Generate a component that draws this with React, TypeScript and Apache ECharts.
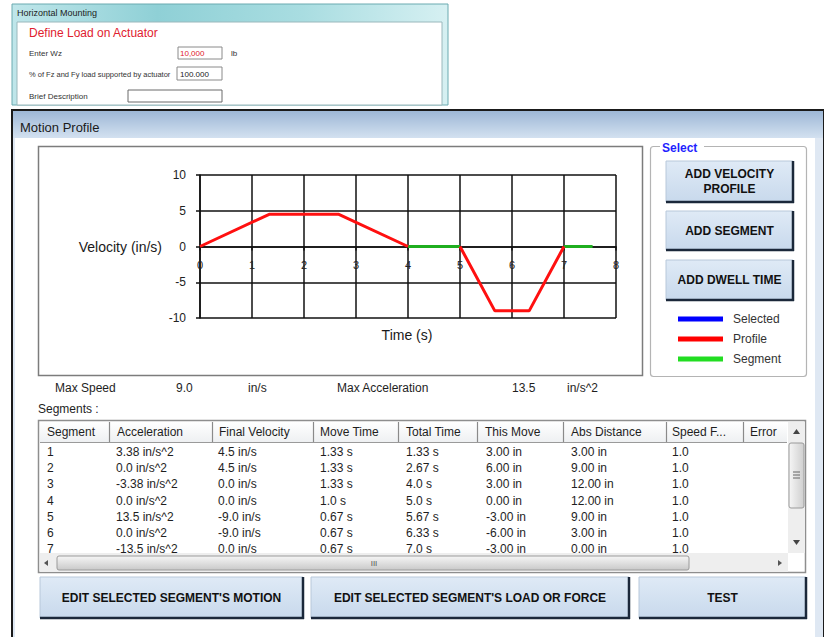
import React, { useEffect, useRef } from "react";
import * as echarts from "echarts";

// ---- chart data ----
const profileTimes = [0, 1.33, 2.67, 4.0, null, 5.0, 5.67, 6.33, 7.0];
const profileVelocity = [0, 4.5, 4.5, 0, null, 0, -9, -9, 0];
const segmentTimes = [4.0, 5.0, null, 7.0, 7.55];
const segmentVelocity = [0, 0, null, 0, 0];
const legendNames = ["Selected", "Profile", "Segment"];

const maxSpeed = "9.0";
const maxAcceleration = "13.5";

// ---- table data ----
const tableHeaders = ["Segment", "Acceleration", "Final Velocity", "Move Time", "Total Time", "This Move", "Abs Distance", "Speed F...", "Error"];
const segNumbers = ["1", "2", "3", "4", "5", "6", "7"];
const accelerations = ["3.38 in/s^2", "0.0 in/s^2", "-3.38 in/s^2", "0.0 in/s^2", "13.5 in/s^2", "0.0 in/s^2", "-13.5 in/s^2"];
const finalVelocities = ["4.5 in/s", "4.5 in/s", "0.0 in/s", "0.0 in/s", "-9.0 in/s", "-9.0 in/s", "0.0 in/s"];
const moveTimes = ["1.33 s", "1.33 s", "1.33 s", "1.0 s", "0.67 s", "0.67 s", "0.67 s"];
const totalTimes = ["1.33 s", "2.67 s", "4.0 s", "5.0 s", "5.67 s", "6.33 s", "7.0 s"];
const thisMoves = ["3.00 in", "6.00 in", "3.00 in", "0.00 in", "-3.00 in", "-6.00 in", "-3.00 in"];
const absDistances = ["3.00 in", "9.00 in", "12.00 in", "12.00 in", "9.00 in", "3.00 in", "0.00 in"];
const speedFactors = ["1.0", "1.0", "1.0", "1.0", "1.0", "1.0", "1.0"];

const UI = "'Liberation Sans', Arial, sans-serif";

function pairs(xs: (number | null)[], ys: (number | null)[]) {
  return xs.map((x, i) => (x === null || ys[i] === null ? ["-", "-"] : [x, ys[i]]));
}

function txt(x: number, y: number, text: string, o: any = {}) {
  const size = o.size ?? 12;
  const weight = o.weight ?? "normal";
  return {
    type: "text",
    x,
    y,
    z: o.z ?? 20,
    silent: true,
    style: {
      text,
      fill: o.color ?? "#1e1e1e",
      font: `${weight} ${size}px ${o.family ?? UI}`,
      align: o.align ?? "left",
      verticalAlign: "middle",
      textAlign: o.align ?? "left",
      textVerticalAlign: "middle",
    },
  };
}
function rect(x: number, y: number, w: number, h: number, style: any, z = 0, r = 0) {
  return { type: "rect", z, silent: true, shape: { x, y, width: w, height: h, r }, style };
}
function line(x1: number, y1: number, x2: number, y2: number, stroke: string, lw = 1, z = 5) {
  return { type: "line", z, silent: true, shape: { x1, y1, x2, y2 }, style: { stroke, lineWidth: lw } };
}
function vgrad(a: string, b: string) {
  return new echarts.graphic.LinearGradient(0, 0, 0, 1, [
    { offset: 0, color: a },
    { offset: 1, color: b },
  ]);
}
function hgrad(stops: string[]) {
  return new echarts.graphic.LinearGradient(
    0, 0, 1, 0,
    stops.map((c, i) => ({ offset: i / (stops.length - 1), color: c }))
  );
}
function button(x: number, y: number, w: number, h: number, lines: string[]) {
  const els: any[] = [
    rect(x, y, w, h, { fill: vgrad("#dfeaf6", "#c8d9ec"), stroke: "#b8c8da", lineWidth: 1 }, 2),
    line(x, y + h, x + w + 1, y + h, "#1b283a", 2.5, 3),
    line(x + w, y, x + w, y + h + 1, "#1b283a", 2.5, 3),
  ];
  const cy = y + h / 2;
  const lh = 15;
  lines.forEach((t, i) => {
    els.push(txt(x + w / 2, cy + (i - (lines.length - 1) / 2) * lh, t, { weight: "bold", size: 12, align: "center", color: "#111" }));
  });
  return els;
}

function buildGraphics() {
  const g: any[] = [];
  // ---- top window (Horizontal Mounting) ----
  g.push(rect(12, 4, 436, 101, { fill: hgrad(["#bfe6ea", "#8fd0d6", "#a9dde1", "#d6f0f2"]), stroke: "#6aaab0", lineWidth: 1 }, -20));
  g.push(rect(17, 22, 425, 83, { fill: "#ffffff", stroke: "#9ab8bc", lineWidth: 1 }, -19));
  g.push(txt(17, 13, "Horizontal Mounting", { size: 9, color: "#222" }));
  g.push(txt(29, 33, "Define Load on Actuator", { size: 12, color: "#e0202e" }));
  g.push(txt(29, 53, "Enter Wz", { size: 8, color: "#333" }));
  g.push(rect(178, 47, 44, 12, { fill: "#fff", stroke: "#8a8a8a", lineWidth: 1 }, -18));
  g.push(txt(180, 53, "10,000", { size: 8, color: "#e0202e" }));
  g.push(txt(231, 53, "lb", { size: 8, color: "#333" }));
  g.push(txt(29, 74, "% of Fz and Fy load supported by actuator", { size: 7.5, color: "#333" }));
  g.push(rect(177, 67, 45, 13, { fill: "#fff", stroke: "#8a8a8a", lineWidth: 1 }, -18));
  g.push(txt(180, 74, "100.000", { size: 8, color: "#222" }));
  g.push(txt(29, 96, "Brief Description", { size: 8, color: "#333" }));
  g.push(rect(128, 90, 94, 12, { fill: "#fff", stroke: "#6a6a6a", lineWidth: 1 }, -18));

  // ---- main window (Motion Profile) ----
  g.push(rect(12, 110, 812, 530, { fill: "#dfe8f3", stroke: "#1a1a1a", lineWidth: 2 }, -20));
  g.push(rect(13, 111, 810, 27, { fill: vgrad("#9db7d6", "#d3e1f0") }, -19));
  g.push(rect(15, 138, 800, 500, { fill: "#ffffff" }, -18));
  g.push(txt(20, 127, "Motion Profile", { size: 13, color: "#1a1a1a" }));

  // chart box
  g.push(rect(38.5, 146.5, 604, 229, { fill: "none", stroke: "#7c7c7c", lineWidth: 1.5 }, -5));
  g.push(txt(162, 247, "Velocity (in/s)", { size: 14, align: "right", color: "#1a1a1a", family: "Arial, 'Liberation Sans', sans-serif" }));
  g.push(txt(407, 335, "Time (s)", { size: 14, align: "center", color: "#1a1a1a", family: "Arial, 'Liberation Sans', sans-serif" }));

  // select group box
  g.push(rect(650.5, 146.5, 156, 230, { fill: "none", stroke: "#b4b4b4", lineWidth: 1.2 }, -5, 3));
  g.push(rect(660, 141, 44, 12, { fill: "#fff" }, -4));
  g.push(txt(662, 148, "Select", { size: 12, weight: "bold", color: "#1f1fff" }));
  g.push(...button(666, 161, 127, 41, ["ADD VELOCITY", "PROFILE"]));
  g.push(...button(666, 211, 127, 39, ["ADD SEGMENT"]));
  g.push(...button(666, 260, 127, 40, ["ADD DWELL TIME"]));

  // summary
  g.push(txt(55, 388, "Max Speed", { size: 12 }));
  g.push(txt(176, 388, maxSpeed, { size: 12 }));
  g.push(txt(248, 388, "in/s", { size: 12 }));
  g.push(txt(337, 388, "Max Acceleration", { size: 12 }));
  g.push(txt(512, 388, maxAcceleration, { size: 12 }));
  g.push(txt(567, 388, "in/s^2", { size: 12 }));
  g.push(txt(38, 409, "Segments :", { size: 12 }));

  // table
  g.push(rect(38.5, 420.5, 767, 152, { fill: "#fff", stroke: "#8e8e8e", lineWidth: 1.5 }, -5));
  g.push(rect(40, 422, 747, 20, { fill: vgrad("#ffffff", "#eef0f2") }, -4));
  g.push(line(40, 442.5, 787, 442.5, "#9a9a9a", 1, 1));
  const seps = [109, 212, 313, 398, 477, 563, 666, 743];
  seps.forEach((x) => g.push(line(x + 0.5, 422, x + 0.5, 442, "#8a8a8a", 1.2, 1)));
  const headX = [47, 117, 219, 320, 406, 485, 571, 672, 750];
  tableHeaders.forEach((h, i) => g.push(txt(headX[i], 432, h, { size: 12 })));
  const cols = [segNumbers, accelerations, finalVelocities, moveTimes, totalTimes, thisMoves, absDistances, speedFactors];
  const colX = [47, 116, 218, 320, 406, 486, 571, 672];
  cols.forEach((col, c) => {
    col.forEach((v, r) => g.push(txt(colX[c], 452 + r * 16.2, v, { size: 12, z: 8 })));
  });
  // horizontal scrollbar (covers last row)
  g.push(rect(40, 553, 748, 19, { fill: "#eeeeee" }, 9));
  g.push(rect(57, 556, 632, 14, { fill: vgrad("#f6f6f6", "#c9c9c9"), stroke: "#9a9a9a", lineWidth: 1 }, 10, 2));
  g.push(txt(374, 563, "III", { size: 8, align: "center", color: "#555", z: 11 }));
  g.push({ type: "polygon", z: 11, silent: true, shape: { points: [[44, 563], [48, 560], [48, 566]] }, style: { fill: "#555" } });
  g.push({ type: "polygon", z: 11, silent: true, shape: { points: [[782, 563], [778, 560], [778, 566]] }, style: { fill: "#555" } });
  // vertical scrollbar
  g.push(rect(788, 422, 17, 131, { fill: "#eeeeee" }, 9));
  g.push(rect(789, 443, 15, 65, { fill: hgrad(["#f6f6f6", "#cfcfcf"]), stroke: "#9a9a9a", lineWidth: 1 }, 10, 2));
  [472, 475, 478].forEach((y) => g.push(line(793, y, 800, y, "#666", 1, 11)));
  g.push({ type: "polygon", z: 11, silent: true, shape: { points: [[796.5, 429], [793, 434], [800, 434]] }, style: { fill: "#444" } });
  g.push({ type: "polygon", z: 11, silent: true, shape: { points: [[796.5, 545], [793, 540], [800, 540]] }, style: { fill: "#444" } });

  // bottom buttons
  g.push(...button(40, 577, 263, 41, ["EDIT SELECTED SEGMENT'S MOTION"]));
  g.push(...button(311, 577, 318, 41, ["EDIT SELECTED SEGMENT'S LOAD OR FORCE"]));
  g.push(...button(639, 577, 167, 41, ["TEST"]));
  return g;
}

export default function App() {
  const ref = useRef<HTMLDivElement>(null);
  useEffect(() => {
    const chart = echarts.init(ref.current!, null, { renderer: "svg" });
    chart.setOption({
      animation: false,
      backgroundColor: "#ffffff",
      grid: { left: 200, top: 175, width: 416, height: 143, containLabel: false },
      xAxis: {
        type: "value",
        min: 0,
        max: 8,
        interval: 1,
        position: "bottom",
        offset: -71.5,
        axisLine: { show: true, onZero: false, lineStyle: { color: "#111", width: 1.5 } },
        axisTick: { show: true, length: 4, lineStyle: { color: "#111", width: 1.5 } },
        axisLabel: { margin: 13, color: "#222", fontSize: 11, fontFamily: "Arial, 'Liberation Sans', sans-serif" },
        splitLine: { show: true, lineStyle: { color: "#111", width: 1.5 } },
      },
      yAxis: {
        type: "value",
        min: -10,
        max: 10,
        interval: 5,
        axisLine: { show: true, onZero: false, lineStyle: { color: "#111", width: 1.5 } },
        axisTick: { show: true, length: 4, lineStyle: { color: "#111", width: 1.5 } },
        axisLabel: { margin: 14, color: "#222", fontSize: 12, fontFamily: "Arial, 'Liberation Sans', sans-serif" },
        splitLine: { show: true, lineStyle: { color: "#111", width: 1.5 } },
      },
      legend: {
        data: legendNames,
        orient: "vertical",
        left: 673,
        top: 308,
        icon: "rect",
        itemWidth: 45,
        itemHeight: 5,
        itemGap: 8,
        selectedMode: false,
        textStyle: { fontSize: 12, color: "#333", fontFamily: UI, padding: [0, 0, 0, 5] },
      },
      series: [
        { name: "Selected", type: "line", data: [], color: "#0000ff", showSymbol: false },
        {
          name: "Profile",
          type: "line",
          data: pairs(profileTimes, profileVelocity),
          color: "#ff0000",
          showSymbol: false,
          connectNulls: false,
          lineStyle: { width: 3, color: "#ff1010" },
          z: 4,
        },
        {
          name: "Segment",
          type: "line",
          data: pairs(segmentTimes, segmentVelocity),
          color: "#22dd22",
          showSymbol: false,
          connectNulls: false,
          lineStyle: { width: 3, color: "#1fae1f" },
          z: 3,
        },
      ],
      graphic: { elements: buildGraphics() },
    });
    return () => chart.dispose();
  }, []);
  return <div ref={ref} style={{ position: "absolute", left: 0, top: 0, width: 824, height: 637 }} />;
}
